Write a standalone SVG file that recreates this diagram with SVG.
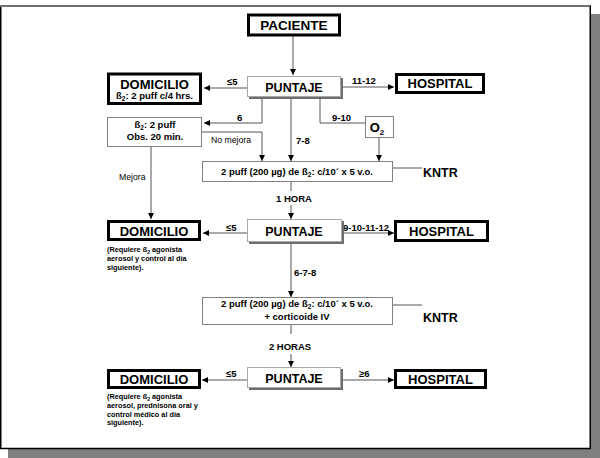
<svg xmlns="http://www.w3.org/2000/svg" width="600" height="458" viewBox="0 0 600 458">
<defs>
<style>
.thick{fill:#fff;stroke:#000;stroke-width:3}
.thin{fill:#fff;stroke:#808080;stroke-width:1}
.psh{fill:#6e6e6e}
.pbox{fill:#fff;stroke:#a8a8a8;stroke-width:1}
.conn{fill:none;stroke:#555;stroke-width:1}
text{font-family:"Liberation Sans",Arial,sans-serif;fill:#000}
.big{font-size:13px;font-weight:bold}
.sm{font-size:9.5px;font-weight:bold}
.note{font-size:7.3px;font-weight:bold}
.lbl{font-size:8.7px}
.k{font-size:12.5px;font-weight:bold}
</style>
<marker id="ah" markerWidth="6" markerHeight="6" refX="6" refY="3" orient="auto" markerUnits="userSpaceOnUse">
<path d="M0,0 L6,3 L0,6 z" fill="#000"/>
</marker>
</defs>
<rect x="8" y="14" width="592" height="444" fill="#808080"/>
<rect x="0.75" y="6" width="589.5" height="442.5" fill="#fff" stroke="#000" stroke-width="1.5"/>
<line x1="0" y1="6" x2="590" y2="6" stroke="#6f6f6f" stroke-width="2"/>

<g id="connectors">
<line class="conn" x1="293" y1="35" x2="293" y2="75" marker-end="url(#ah)"/>
<line class="conn" x1="247" y1="88" x2="204" y2="88" marker-end="url(#ah)"/>
<line class="conn" x1="341" y1="87" x2="394" y2="87" marker-end="url(#ah)"/>
<polyline class="conn" points="262,97 262,123 204,123" marker-end="url(#ah)"/>
<line class="conn" x1="291" y1="97" x2="291" y2="161" marker-end="url(#ah)"/>
<polyline class="conn" points="320,97 320,123 365,123"/>
<line class="conn" x1="379" y1="138" x2="379" y2="161" marker-end="url(#ah)"/>
<polyline class="conn" points="202,132 262,132 262,161" marker-end="url(#ah)"/>
<line class="conn" x1="151" y1="147" x2="151" y2="219" marker-end="url(#ah)"/>
<line class="conn" x1="393" y1="168" x2="422" y2="168"/>
<line class="conn" x1="291" y1="182" x2="291" y2="191"/>
<line class="conn" x1="291" y1="205" x2="291" y2="219" marker-end="url(#ah)"/>
<line class="conn" x1="247" y1="233" x2="203" y2="233" marker-end="url(#ah)"/>
<line class="conn" x1="342" y1="233" x2="394" y2="233" marker-end="url(#ah)"/>
<line class="conn" x1="291" y1="242" x2="291" y2="297" marker-end="url(#ah)"/>
<line class="conn" x1="393" y1="305" x2="422" y2="305"/>
<line class="conn" x1="291" y1="325" x2="291" y2="334"/>
<line class="conn" x1="291" y1="354" x2="291" y2="367" marker-end="url(#ah)"/>
<line class="conn" x1="247" y1="380" x2="202" y2="380" marker-end="url(#ah)"/>
<line class="conn" x1="341" y1="380" x2="394" y2="380" marker-end="url(#ah)"/>
<text class="sm" x="227" y="85">≤5</text>
<text class="sm" x="352" y="84">11-12</text>
<text class="sm" x="237" y="121">6</text>
<text class="sm" x="332" y="121">9-10</text>
<text class="sm" x="296" y="144">7-8</text>
<text class="lbl" x="211" y="143">No mejora</text>
<text class="lbl" x="119" y="180">Mejora</text>
<text class="sm" x="294" y="202" text-anchor="middle">1 HORA</text>
<text class="sm" x="226" y="231">≤5</text>
<text class="sm" x="343" y="231">9-10-11-12</text>
<text class="sm" x="294" y="276">6-7-8</text>
<text class="sm" x="290" y="350" text-anchor="middle">2 HORAS</text>
<text class="sm" x="226" y="377">≤5</text>
<text class="sm" x="359" y="377">≥6</text>
</g>

<g id="paciente">
<rect class="thick" x="248.5" y="15" width="91" height="20"/>
<text class="big" x="294" y="30" text-anchor="middle" style="font-size:13.5px">PACIENTE</text>
</g>

<g id="puntaje1">
<rect class="psh" x="249" y="78" width="94" height="21"/>
<rect class="pbox" x="247.5" y="76.5" width="93" height="20"/>
<text class="big" x="294" y="92" text-anchor="middle" style="font-size:12.5px">PUNTAJE</text>
</g>

<g id="domicilio1">
<rect class="thick" x="108.5" y="74" width="92" height="29.5"/>
<text class="big" x="154.5" y="88.5" text-anchor="middle">DOMICILIO</text>
<text class="sm" x="154.5" y="99" text-anchor="middle">ß<tspan font-size="6.5" dy="1.5">2</tspan><tspan dy="-1.5">: 2 puff c/4 hrs.</tspan></text>
</g>

<g id="hospital1">
<rect class="thick" x="396.5" y="74.5" width="87" height="18"/>
<text class="big" x="440" y="88" text-anchor="middle">HOSPITAL</text>
</g>

<g id="beta-obs">
<rect class="thin" x="107.5" y="117.5" width="94" height="29"/>
<text class="sm" x="155" y="128" text-anchor="middle">ß<tspan font-size="6.5" dy="2">2</tspan><tspan dy="-2">: 2 puff</tspan></text>
<text class="sm" x="155" y="140" text-anchor="middle">Obs. 20 min.</text>
</g>

<g id="o2">
<rect class="thin" x="365.5" y="116.5" width="28" height="21"/>
<text class="big" x="377" y="132" text-anchor="middle">O<tspan font-size="8" dy="3">2</tspan></text>
</g>

<g id="tratamiento1">
<rect class="thin" x="202.5" y="161.5" width="190" height="20"/>
<text class="sm" x="297" y="175" text-anchor="middle">2 puff (200 µg) de ß<tspan font-size="6.5" dy="2">2</tspan><tspan dy="-2">: c/10´ x 5 v.o.</tspan></text>
</g>

<g id="kntr1">
<text class="k" x="423" y="177">KNTR</text>
</g>

<g id="puntaje2">
<rect class="psh" x="249" y="221" width="95" height="23"/>
<rect class="pbox" x="247.5" y="219.5" width="94" height="22"/>
<text class="big" x="294" y="236" text-anchor="middle" style="font-size:12.5px">PUNTAJE</text>
</g>

<g id="domicilio2">
<rect class="thick" x="108.5" y="221.5" width="91" height="18"/>
<text class="big" x="154" y="235.5" text-anchor="middle">DOMICILIO</text>
<text class="note" x="107" y="252">(Requiere ß<tspan font-size="5" dy="1.5">2</tspan><tspan dy="-1.5"> agonista</tspan></text>
<text class="note" x="107" y="261">aerosol y control al día</text>
<text class="note" x="107" y="270">siguiente).</text>
</g>

<g id="hospital2">
<rect class="thick" x="395.5" y="221.5" width="92" height="19"/>
<text class="big" x="441.5" y="236" text-anchor="middle">HOSPITAL</text>
</g>

<g id="tratamiento2">
<rect class="thin" x="202.5" y="297.5" width="190" height="27"/>
<text class="sm" x="297" y="307" text-anchor="middle">2 puff (200 µg) de ß<tspan font-size="6.5" dy="2">2</tspan><tspan dy="-2">: c/10´ x 5 v.o.</tspan></text>
<text class="sm" x="297" y="320" text-anchor="middle">+ corticoide IV</text>
</g>

<g id="kntr2">
<text class="k" x="423" y="322">KNTR</text>
</g>

<g id="puntaje3">
<rect class="psh" x="249" y="369" width="94" height="21"/>
<rect class="pbox" x="247.5" y="367.5" width="93" height="20"/>
<text class="big" x="294" y="383" text-anchor="middle" style="font-size:12.5px">PUNTAJE</text>
</g>

<g id="domicilio3">
<rect class="thick" x="108.5" y="370.5" width="91" height="17"/>
<text class="big" x="154" y="384" text-anchor="middle">DOMICILIO</text>
<text class="note" x="107" y="399">(Requiere ß<tspan font-size="5" dy="1.5">2</tspan><tspan dy="-1.5"> agonista</tspan></text>
<text class="note" x="107" y="408">aerosol, prednisona oral y</text>
<text class="note" x="107" y="416.5">control médico al día</text>
<text class="note" x="107" y="425">siguiente).</text>
</g>

<g id="hospital3">
<rect class="thick" x="395.5" y="370.5" width="90" height="17"/>
<text class="big" x="440.5" y="384" text-anchor="middle">HOSPITAL</text>
</g>
</svg>
